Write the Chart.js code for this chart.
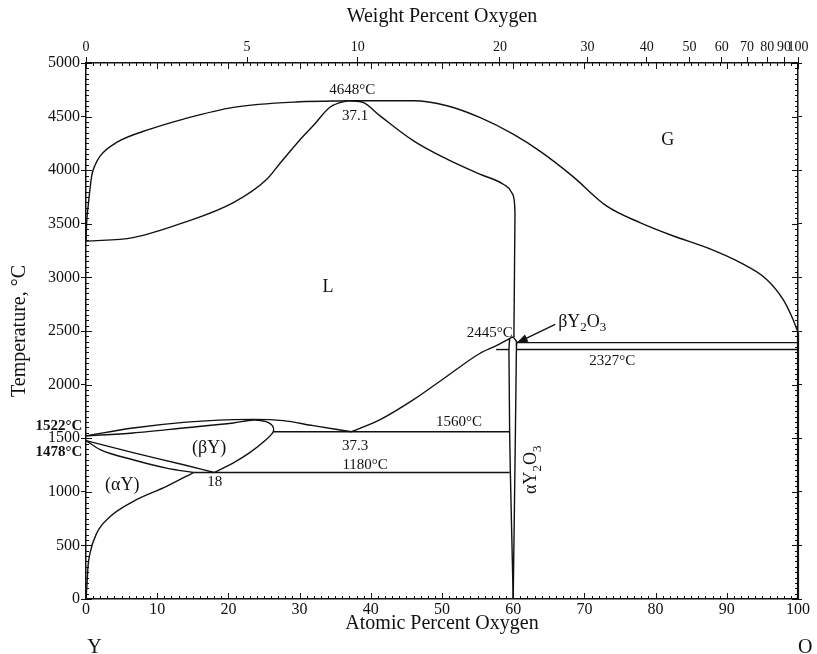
<!DOCTYPE html>
<html><head><meta charset="utf-8">
<script src="https://cdn.jsdelivr.net/npm/chart.js@4.4.0/dist/chart.umd.min.js"></script>
<style>html,body{margin:0;padding:0;background:#fff}canvas{display:block}</style>
</head><body>
<canvas id="c" width="817" height="654"></canvas>
<script>
// ---- tick values ----
const atomicTicks = [0,10,20,30,40,50,60,70,80,90,100];
const tempTicks = [0,500,1000,1500,2000,2500,3000,3500,4000,4500,5000];
const weightTicks = [0,5,10,20,30,40,50,60,70,80,90,100];

// ---- phase boundaries: [atomic % O, temperature °C] ----
const vaporLeft = [[0,3338],[0.1,3520],[0.3,3663],[0.8,3947],[1.3,4050],[2,4134],[4.3,4259],[9,4383],[13.7,4477],[20.7,4586],[30,4638],[37.1,4648]];
const liquidLeft = [[0,3338],[6.6,3371],[13.7,3511],[20.7,3698],[25.4,3916],[27.2,4060],[30,4280],[31.9,4414],[34.3,4590],[36.6,4645],[37.1,4648]];
const liquidRight = [[37.1,4648],[38.9,4632],[41.3,4507],[46,4274],[50.7,4103],[55.3,3963],[58.6,3869],[59.8,3790],[60.2,3680],[60.25,3600]];
const liquidRightVertical = [[60.25,3600],[60.1,2445]];
const vaporRight = [[37.1,4648],[46,4648],[50.7,4601],[55.3,4492],[60,4336],[63.8,4175],[68.4,3940],[73.1,3667],[77.8,3511],[82.5,3386],[87.2,3277],[91.9,3137],[95.6,2981],[97.9,2794],[99.3,2607],[100,2486]];
const liquidusOxide = [[37.3,1560],[41.3,1673],[46,1860],[50.7,2078],[55.3,2290],[57.7,2365],[59.5,2430],[60,2445]];
const liquidusMetal = [[0,1522],[6.6,1595],[13.7,1648],[20.7,1673],[23.5,1676],[27.7,1664],[31.9,1617],[37.3,1560]];
const solidusBeta = [[0,1522],[6.6,1549],[13.7,1595],[20.7,1642],[23.5,1670],[25.3,1655],[26.2,1615],[26.3,1560],[25.2,1480],[23,1365],[20.7,1270],[18,1180]];
const betaLower = [[0,1478],[6.6,1365],[13.7,1252],[18,1180]];
const alphaUpper = [[0,1478],[2,1393],[6.6,1299],[11.3,1221],[15.1,1180]];
const alphaSolvus = [[0,0],[0.15,150],[0.28,302],[0.56,427],[1.5,614],[3.4,769],[6.6,909],[11.3,1050],[15.1,1180]];
const monotectic = [[26.3,1560],[59.5,1560]];
const eutectoid = [[15.1,1180],[59.5,1180]];
const oxideLeft = [[59.5,2430],[59.4,2327],[59.5,1560],[59.6,1180],[60,0]];
const oxideRight = [[60,2445],[60.5,2400],[60.45,2327],[60.3,1500],[60,0]];
const transitionLeft = [[57.6,2327],[59.4,2327]];
const transitionRight = [[60.45,2327],[100,2327]];
const upperIsotherm = [[60.6,2392],[100,2392]];
const oxygenSide = [[100,0],[100,2486]];
const arrowLine = [[65.9,2561],[60.5,2390]];

// ---- text labels: [text, atomic %, temperature] ----
const plainLabels = [["4648°C",37.4,4748],["37.1",37.8,4505],["2445°C",56.7,2477],["2327°C",73.9,2224],["1560°C",52.4,1654],["37.3",37.8,1430],["1180°C",39.2,1252],["18",18.1,1093]];
const regionLabels = [["G",81.7,4280],["L",34.0,2907],["(βY)",17.3,1402],["(αY)",5.1,1065]];
const boldLabels = [["1522°C",-0.5,1617],["1478°C",-0.5,1374]];
const endLabels = [["Y",1.2,-455],["O",101,-455]];

const FONT = "'Liberation Serif','Times New Roman',serif";
const INK = '#111';

function wtToAt(w){ if (w>=100) return 100; const o=w/15.999, y=(100-w)/88.906; return 100*o/(o+y); }

function curve(pts, mode){
  const d = {data: pts.map(p=>({x:p[0],y:p[1]})), showLine:true, pointRadius:0, pointHoverRadius:0,
    borderColor:INK, borderWidth:1.4, clip:false, fill:false, tension:0};
  if (mode==='mono') { d.cubicInterpolationMode = 'monotone'; d.tension = 0.4; }
  else if (mode==='bez') { d.tension = 0.3; }
  return d;
}
const monoCurves = [vaporLeft, liquidLeft, liquidRight, vaporRight, liquidusOxide, liquidusMetal, betaLower, alphaUpper, alphaSolvus];
const bezCurves = [solidusBeta];
const straight = [liquidRightVertical, monotectic, eutectoid, oxideLeft, oxideRight, transitionLeft, transitionRight, upperIsotherm, arrowLine];
const datasets = monoCurves.map(p=>curve(p,'mono')).concat(bezCurves.map(p=>curve(p,'bez')), straight.map(p=>curve(p,'line')));
const sideDs = curve(oxygenSide,'line'); sideDs.borderWidth = 2.2; datasets.push(sideDs);

function drawSub(ctx, parts, x, y, size, align){
  const big = size+"px "+FONT, small = Math.round(size*0.7)+"px "+FONT;
  let w = 0;
  parts.forEach(p=>{ ctx.font = p[1]?small:big; w += ctx.measureText(p[0]).width; });
  let cx = align==='left' ? x : x - w/2;
  ctx.textAlign='left'; ctx.textBaseline='middle';
  parts.forEach(p=>{ ctx.font = p[1]?small:big; ctx.fillText(p[0], cx, y + (p[1]? size*0.3:0)); cx += ctx.measureText(p[0]).width; });
}

const annot = {
  id:'annot',
  afterDraw(chart){
    const ctx = chart.ctx, X = chart.scales.x, Y = chart.scales.y, A = chart.chartArea;
    ctx.save();
    ctx.strokeStyle = INK; ctx.fillStyle = INK; ctx.lineWidth = 1;
    ctx.beginPath();
    for (let a=0; a<=100; a++){
      const px = Math.round(X.getPixelForValue(a))+0.5, len = a%10===0?6:3;
      ctx.moveTo(px, A.bottom); ctx.lineTo(px, A.bottom-len);
      ctx.moveTo(px, A.top); ctx.lineTo(px, A.top+len);
    }
    for (let t=0; t<=5000; t+=50){
      const py = Math.round(Y.getPixelForValue(t))+0.5, len = t%500===0?6:3;
      ctx.moveTo(A.left, py); ctx.lineTo(A.left+len, py);
      ctx.moveTo(A.right, py); ctx.lineTo(A.right-len, py);
    }
    ctx.stroke();

    const x0 = X.getPixelForValue(arrowLine[0][0]), y0 = Y.getPixelForValue(arrowLine[0][1]);
    const x1 = X.getPixelForValue(arrowLine[1][0]), y1 = Y.getPixelForValue(arrowLine[1][1]);
    const ang = Math.atan2(y1-y0, x1-x0), L = 11, W = 4;
    ctx.beginPath();
    ctx.moveTo(x1,y1);
    ctx.lineTo(x1 - L*Math.cos(ang) + W*Math.sin(ang), y1 - L*Math.sin(ang) - W*Math.cos(ang));
    ctx.lineTo(x1 - L*Math.cos(ang) - W*Math.sin(ang), y1 - L*Math.sin(ang) + W*Math.cos(ang));
    ctx.closePath(); ctx.fill();

    ctx.textBaseline = 'middle';
    ctx.textAlign = 'center';
    ctx.font = "15px "+FONT;
    plainLabels.forEach(l=>ctx.fillText(l[0], X.getPixelForValue(l[1]), Y.getPixelForValue(l[2])));
    ctx.font = "18px "+FONT;
    regionLabels.forEach(l=>ctx.fillText(l[0], X.getPixelForValue(l[1]), Y.getPixelForValue(l[2])));
    ctx.font = "20px "+FONT;
    endLabels.forEach(l=>ctx.fillText(l[0], X.getPixelForValue(l[1]), Y.getPixelForValue(l[2])));
    ctx.textAlign = 'right';
    ctx.font = "bold 15px "+FONT;
    boldLabels.forEach(l=>ctx.fillText(l[0], X.getPixelForValue(l[1]), Y.getPixelForValue(l[2])));

    drawSub(ctx, [["βY",0],["2",1],["O",0],["3",1]], x0+3, y0-2, 18, 'left');
    ctx.save();
    ctx.translate(X.getPixelForValue(62.6), Y.getPixelForValue(1206));
    ctx.rotate(-Math.PI/2);
    drawSub(ctx, [["αY",0],["2",1],["O",0],["3",1]], 0, 0, 18, 'center');
    ctx.restore();
    ctx.restore();
  }
};

const tickFont = {family: FONT, size: 16};
new Chart(document.getElementById('c'), {
  type: 'scatter',
  data: {datasets},
  options: {
    responsive: false, animation: false, devicePixelRatio: 1,
    layout: {padding: 0},
    plugins: {legend:{display:false}, tooltip:{enabled:false}},
    scales: {
      x: {type:'linear', position:'bottom', min:0, max:100,
        afterBuildTicks: s=>{ s.ticks = atomicTicks.map(v=>({value:v})); },
        afterFit: s=>{ s.height = 55; },
        ticks: {font: tickFont, color: INK, padding: 1, maxRotation:0, autoSkip:false, callback: v=>String(v)},
        grid: {drawOnChartArea:false, drawTicks:false, color: INK},
        border: {display:true, color: INK, width:1.5},
        title: {display:true, text:'Atomic Percent Oxygen', font:{family:FONT, size:20}, color:INK, padding:{top:0,bottom:18}}
      },
      x2: {type:'linear', position:'top', min:0, max:100,
        afterBuildTicks: s=>{ s.ticks = weightTicks.map(w=>({value: wtToAt(w)})); },
        afterFit: s=>{ s.height = 63; },
        ticks: {font: {family:FONT, size:14}, color: INK, padding: 1, maxRotation:0, autoSkip:false,
          callback: (v,i)=> String(weightTicks[i])},
        grid: {drawOnChartArea:false, drawTicks:true, tickLength:6, color: INK},
        border: {display:true, color: INK, width:1.5},
        title: {display:true, text:'Weight Percent Oxygen', font:{family:FONT, size:20}, color:INK, padding:{top:5,bottom:0}}
      },
      y: {type:'linear', position:'left', min:0, max:5000,
        afterBuildTicks: s=>{ s.ticks = tempTicks.map(v=>({value:v})); },
        afterFit: s=>{ s.width = 86; },
        ticks: {font: tickFont, color: INK, padding: 1, autoSkip:false, callback: v=>String(v)},
        grid: {drawOnChartArea:false, drawTicks:true, tickLength:5, color: INK},
        border: {display:true, color: INK, width:1.5},
        title: {display:true, text:'Temperature, °C', font:{family:FONT, size:20}, color:INK, padding:{top:8,bottom:0}}
      },
      y2: {type:'linear', position:'right', min:0, max:5000,
        afterBuildTicks: s=>{ s.ticks = tempTicks.map(v=>({value:v})); },
        afterFit: s=>{ s.width = 19; },
        ticks: {display:false},
        grid: {drawOnChartArea:false, drawTicks:true, tickLength:4, color: INK},
        border: {display:true, color: INK, width:1.5}
      }
    }
  },
  plugins: [annot]
});
</script>
</body></html>
